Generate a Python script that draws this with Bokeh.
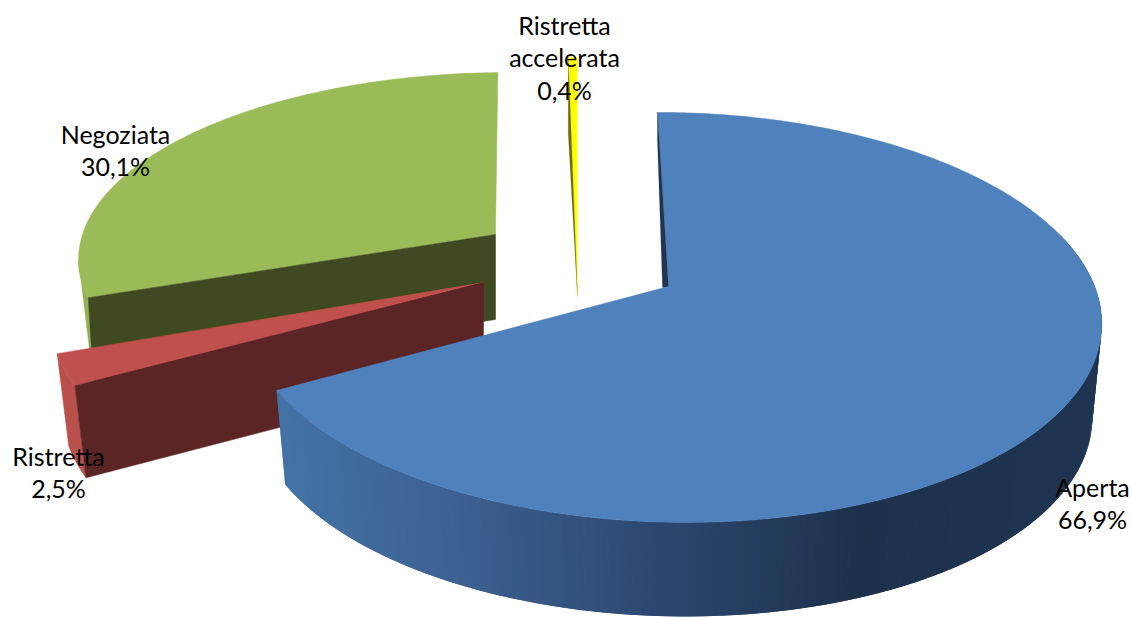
import math
from bokeh.plotting import figure
from bokeh.models import Range1d
from bokeh.core.properties import value
from bokeh.embed import file_html
from bokeh.resources import INLINE

# Data
categories = ["Aperta", "Ristretta", "Negoziata", "Ristretta accelerata"]
shares = [66.9, 2.5, 30.1, 0.4]
label_lines = [["Aperta", "66,9%"], ["Ristretta", "2,5%"], ["Negoziata", "30,1%"], ["Ristretta", "accelerata", "0,4%"]]

# Styles
top_colors = ["#4F81BD", "#C0504D", "#9BBB59", "#FFFF00"]
wall_colors = ["#1F3552", "#5A2524", "#404A22", "#6B6B12"]
edge_colors = ["#1F3552", "#B9504C", "#92B152", "#6B6B12"]
gradient = [(276, (67, 115, 166)), (460, (60, 96, 146)), (660, (44, 72, 112)), (860, (29, 49, 75)), (1110, (31, 53, 82))]
# Per-slice projection: apex x, apex y, Rx, Ry, k, m, shear, depth, bottom x scale
projection = [
    (668, 286, 424, 200.3, 0.151, -0.005, -12.7, 94, 0.978),
    (483, 282, 425.3, 199.0, 0.141, 0.0, 17.5, 92, 0.973),
    (495, 234, 413, 179.0, 0.105, 0.0, 13.0, 85, 0.987),
    (577, 296, 405, 263.0, 0.100, 0.0, 0.0, 0, 1.0),
]
label_pos = [(1092, 486), (58, 455), (115, 133), (564, 24)]
LINE = 32.5

total = sum(shares)
bounds = [0.0]
for s in shares:
    bounds.append(bounds[-1] + s / total * 360.0)


def rim(i, deg):
    ax, ay, rx, ry, k, m, sh, _, _ = projection[i]
    t = math.radians(deg)
    u, v = math.sin(t), math.cos(t)
    d = 1 + k * v + m * u
    return ax + (rx * u + sh * v) / d, ay - ry * v / d


def low(i, pt):
    ax, ay, *_, depth, sc = projection[i]
    return ax + sc * (pt[0] - ax), pt[1] + depth


def arc(i, a, b, n=120):
    return [rim(i, a + (b - a) * j / n) for j in range(n + 1)]


def grad(x):
    for (x0, c0), (x1, c1) in zip(gradient, gradient[1:]):
        if x <= x1:
            f = max(0.0, (x - x0) / (x1 - x0))
            return "#%02x%02x%02x" % tuple(round(a + (b - a) * f) for a, b in zip(c0, c1))
    return "#%02x%02x%02x" % gradient[-1][1]


p = figure(width=1132, height=617, output_backend="svg", toolbar_location=None,
           x_range=Range1d(0, 1132), y_range=Range1d(617, 0),
           min_border=0, outline_line_color=None, background_fill_color="white")
p.xaxis.visible = False
p.yaxis.visible = False
p.grid.visible = False


def poly(pts, color, lw=0.5):
    p.patch([q[0] for q in pts], [q[1] for q in pts], fill_color=color, line_color=color, line_width=lw)


apex = [(c[0], c[1]) for c in projection]

# Negoziata
a, b = bounds[2], bounds[3]
outer = arc(2, a, a + 12, 16)
poly(outer + [low(2, rim(2, a))], edge_colors[2])
poly(arc(2, a, b) + [apex[2]], top_colors[2])
poly([rim(2, a), apex[2], low(2, apex[2]), low(2, rim(2, a))], wall_colors[2])

# Ristretta
a, b = bounds[1], bounds[2]
r = arc(1, a, b, 10)
poly(r + [low(1, q) for q in reversed(r)], edge_colors[1])
poly(r + [apex[1]], top_colors[1])
poly([rim(1, a), apex[1], low(1, apex[1]), low(1, rim(1, a))], wall_colors[1])

# Ristretta accelerata
a, b = bounds[3], bounds[4]
poly(arc(3, a, b, 6) + [apex[3]], top_colors[3], 0.2)
rs = rim(3, a)
poly([rs, (rs[0], rs[1] + 76), apex[3]], wall_colors[3], 0.2)

# Aperta: side strips painted from the far right towards the cut edge, each one overlapping the next
a, b = bounds[0], bounds[1]
n = 180
start = 75.0
xs, ys, cols = [], [], []
for j in range(n):
    t0 = start + (b - start) * j / n
    t1 = min(start + (b - start) * (j + 2) / n, b)
    q0, q1 = rim(0, t0), rim(0, t1)
    q2, q3 = low(0, q1), low(0, q0)
    xs.append([q0[0], q1[0], q2[0], q3[0]])
    ys.append([q0[1], q1[1], q2[1], q3[1]])
    cols.append(grad(q0[0]))
p.patches(xs, ys, fill_color=cols, line_color=None)
poly(arc(0, a, b, 300) + [apex[0]], top_colors[0])
rs = rim(0, a)
poly([rs, apex[0], (apex[0][0] - 6, apex[0][1] + 1), (rs[0], rs[1] + 28)], wall_colors[0], 0.2)

# Labels
tx, ty, tt = [], [], []
for (lx, ly), lines in zip(label_pos, label_lines):
    for j, s in enumerate(lines):
        tx.append(lx)
        ty.append(ly + j * LINE)
        tt.append(s)
p.text(tx, ty, text=tt, text_font=value("Lato"), text_font_size="25px", text_color="black",
       text_align="center", text_baseline="middle")

open("out.html", "w").write(file_html(p, INLINE))
